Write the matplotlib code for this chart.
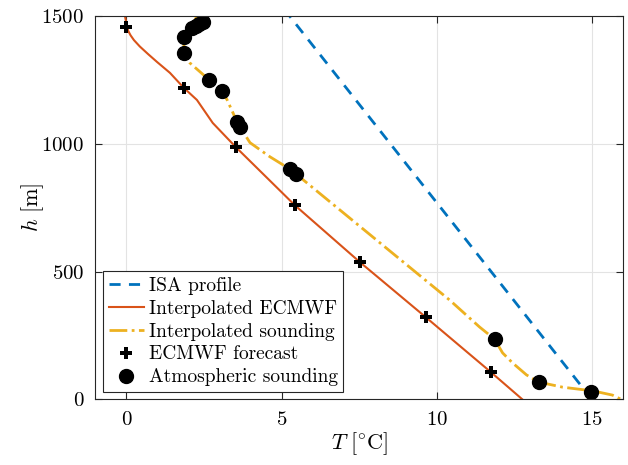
from matplotlib import pyplot as plt

plt.rcParams["font.family"] = "serif"
plt.rcParams["font.serif"] = ["cmr10"]
plt.rcParams["mathtext.fontset"] = "cm"
plt.rcParams["axes.formatter.use_mathtext"] = True

# ISA profile
isa_T = [15.0, 5.25]
isa_h = [0, 1500]

# interpolated ECMWF
ecmwf_line_T = [-0.05, 0.02, 0.06, 0.13, 0.24, 0.43, 0.69, 0.98, 1.40, 1.85, 2.27, 2.78, 3.52, 5.42, 7.52, 9.64, 11.74, 12.76]
ecmwf_line_h = [1500, 1455, 1440, 1424, 1405, 1380, 1351, 1320, 1277, 1218, 1171, 1081, 987, 760, 537, 322, 107, 0]

# interpolated sounding
sound_line_T = [2.27, 2.11, 1.92, 1.85, 1.85, 2.04, 2.66, 3.07, 3.24, 3.43, 3.59, 3.98, 4.62, 5.26, 5.46,
                7.94, 10.41, 11.38, 11.86, 12.12, 12.44, 12.89, 13.28, 14.05, 15.05, 15.66, 15.95]
sound_line_h = [1500, 1456, 1425, 1387, 1351, 1316, 1250, 1207, 1172, 1121, 1078, 1004, 949, 901, 882,
                635, 389, 283, 236, 182, 143, 96, 68, 48, 33, 17, 0]

# ECMWF forecast levels
ecmwf_T = [0.0, 1.85, 3.53, 5.42, 7.52, 9.64, 11.74]
ecmwf_h = [1457, 1218, 987, 760, 537, 322, 107]

# atmospheric sounding
sound_T = [2.46, 2.33, 2.24, 2.11, 1.85, 1.85, 2.66, 3.07, 3.56, 3.65, 5.26, 5.46, 11.86, 13.28, 14.98]
sound_h = [1477, 1469, 1461, 1453, 1418, 1355, 1250, 1207, 1085, 1066, 901, 882, 236, 68, 29]

fig = plt.figure(figsize=(6.28, 4.65), dpi=100)
ax = fig.add_axes([0.152, 0.141, 0.840, 0.825])

ax.plot(isa_T, isa_h, "--", color="#0072BD", lw=2, dashes=(4, 3), label="ISA profile")
ax.plot(ecmwf_line_T, ecmwf_line_h, "-", color="#D95319", lw=1.5, label="Interpolated ECMWF")
ax.plot(sound_line_T, sound_line_h, "-.", color="#EDB120", lw=2, label="Interpolated sounding")
ax.plot(ecmwf_T, ecmwf_h, "P", color="k", ms=9, mew=0, ls="none", label="ECMWF forecast")
ax.plot(sound_T, sound_h, "o", color="k", ms=10, ls="none", label="Atmospheric sounding")

ax.set_xlim(-1, 16)
ax.set_ylim(0, 1500)
ax.set_xticks([0, 5, 10, 15])
ax.set_yticks([0, 500, 1000, 1500])
ax.tick_params(direction="in", top=True, right=True, labelsize=15, length=5, color="#262626", pad=8)
ax.grid(True, color="#e3e3e3", lw=0.8)
ax.set_axisbelow(True)
for s in ax.spines.values():
    s.set_color("#262626")
    s.set_linewidth(0.8)

ax.set_xlabel(r"$T\ [^{\circ}\mathrm{C}]$", fontsize=16, labelpad=1)
ax.set_ylabel(r"$h\ [\mathrm{m}]$", fontsize=16, labelpad=-3)

leg = ax.legend(loc="lower left", bbox_to_anchor=(0.014, 0.019), fontsize=14, fancybox=False,
                edgecolor="#262626", framealpha=1, borderaxespad=0, handlelength=1.8,
                labelspacing=0.25, borderpad=0.3, handletextpad=0.25)
leg.get_frame().set_linewidth(0.8)

plt.savefig("out.png", dpi=100)
